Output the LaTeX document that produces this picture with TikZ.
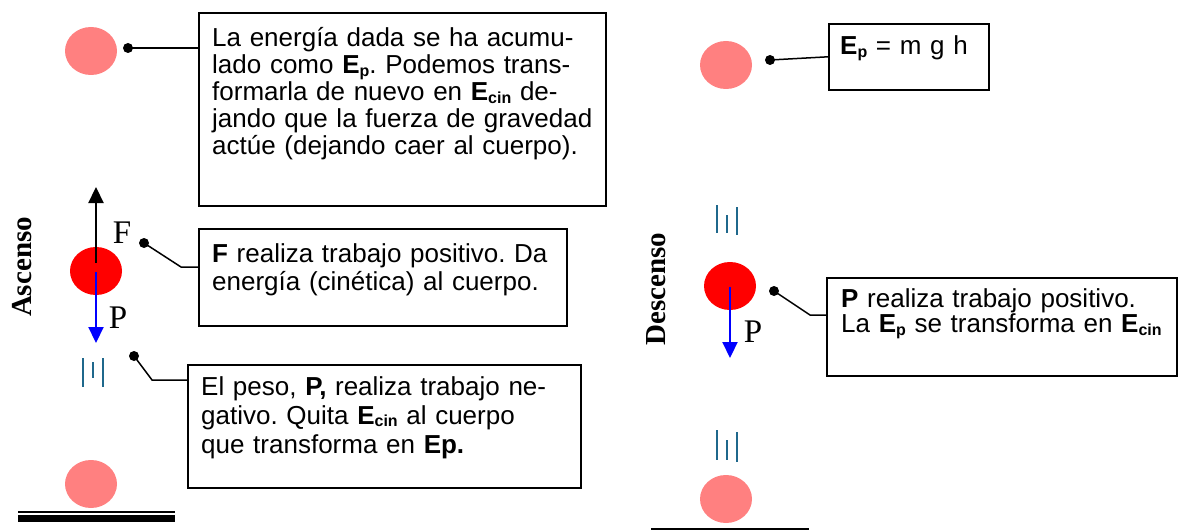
\documentclass[tikz,border=0pt]{standalone}
\usepackage{fontspec}
\setmainfont{Liberation Serif}
\newfontfamily\arial{Liberation Sans}
\usetikzlibrary{shapes.geometric,arrows.meta}
\definecolor{rosa}{RGB}{255,128,128}
\definecolor{rojo}{RGB}{255,0,0}
\definecolor{estela}{RGB}{31,104,140}
\newcommand{\Eb}[1]{\textbf{E\raisebox{-0.1em}{\fontsize{16}{16}\selectfont #1}}}
\frenchspacing

\begin{document}
\begin{tikzpicture}[x=1pt,y=-1pt,
    bola/.style={ellipse,minimum width=52pt,minimum height=48pt,inner sep=0pt},
    bolarosa/.style={bola,fill=rosa},
    bolaroja/.style={bola,fill=rojo},
    caja/.style={draw,line width=1.6pt,anchor=north west,inner sep=0pt},
    texto/.style={anchor=base west,inner sep=0pt,text width=420pt,align=left,font=\arial\fontsize{26}{#1}\selectfont},
    punto/.style={circle,fill,minimum size=10pt,inner sep=0pt},
    linea/.style={line width=1.5pt},
    fuerza/.style={line width=2.2pt,-{Triangle[width=15pt,length=16pt]}},
    peso/.style={fuerza,blue},
    letra/.style={inner sep=0pt,font=\fontsize{33}{33}\selectfont},
    lado/.style={inner sep=0pt,rotate=90,font=\bfseries\fontsize{29}{29}\selectfont},
    estela/.style={draw=estela,line width=2pt},
  ]
    \useasboundingbox (0,0) rectangle (1184,532);

    % ascenso
    \node[lado] (ascenso) at (22,267) {Ascenso};
    \node[bolarosa] (bolaA) at (91,51) {};
    \node[bolaroja] (bolaB) at (96,271) {};
    \node[bolarosa] (bolaC) at (91,484) {};
    \coordinate (topeF) at (96,187);
    \coordinate (topeP) at (96,343);
    \draw[fuerza] ([yshift=8pt]bolaB.center) -- (topeF);
    \draw[peso] ([yshift=-1pt]bolaB.center) -- (topeP);
    \node[letra] (F) at (122,233) {F};
    \node[letra] (P) at (118,318) {P};
    \draw[estela] (83,358) -- (83,387) (93,362) -- (93,378) (103,358) -- (103,387);
    \draw[line width=2pt] (18,512) -- (175,512);
    \draw[line width=7pt] (18,518.5) -- (175,518.5);

    \node[caja,minimum width=407pt,minimum height=193pt] (cajaA) at (198,12) {};
    \node[texto=27] (txtA) at (212,47) {La energía dada se ha acumu-\\lado como \Eb{p}. Podemos trans-\\formarla de nuevo en \Eb{cin} de-\\jando que la fuerza de gravedad\\actúe (dejando caer al cuerpo).};
    \node[caja,minimum width=368pt,minimum height=97pt] (cajaB) at (198,228) {};
    \node[texto=28.3] (txtB) at (212,262) {\textbf{F} realiza trabajo positivo. Da\\energía (cinética) al cuerpo.};
    \node[caja,minimum width=393pt,minimum height=123pt] (cajaC) at (187,364) {};
    \node[texto=29] (txtC) at (201,395) {El peso, \textbf{P,} realiza trabajo ne-\\gativo. Quita \Eb{cin} al cuerpo\\que transforma en \textbf{Ep.}};

    \node[punto] (puntoA) at (128,48) {};
    \draw[linea] (puntoA.center) -- (puntoA.center -| cajaA.west);
    \node[punto] (puntoF) at (144,243) {};
    \coordinate (codoF) at (181,267);
    \draw[linea] (puntoF.center) -- (codoF) -- (codoF -| cajaB.west);
    \node[punto] (puntoP) at (134,356) {};
    \coordinate (codoP) at (152,380);
    \draw[linea] (puntoP.center) -- (codoP) -- (codoP -| cajaC.west);

    % descenso
    \node[lado] (descenso) at (656,289) {Descenso};
    \node[bolarosa] (bolaD) at (726,65) {};
    \node[bolaroja] (bolaE) at (730,286) {};
    \node[bolarosa] (bolaF) at (726,499) {};
    \coordinate (topeQ) at (730,358);
    \draw[peso] ([yshift=-1pt]bolaE.center) -- (topeQ);
    \node[letra] (Q) at (753,332) {P};
    \draw[estela] (717,205) -- (717,233) (727,215) -- (727,233) (737,207) -- (737,235);
    \draw[estela] (717,430) -- (717,460) (727,440) -- (727,460) (737,432) -- (737,462);
    \draw[line width=2.5pt] (651,529) -- (809,529);

    \node[caja,minimum width=160pt,minimum height=66pt] (cajaD) at (828,23) {};
    \node[texto=26] (txtD) at (840,55) {\Eb{p} = m g h};
    \node[caja,minimum width=350pt,minimum height=98pt] (cajaE) at (826,277) {};
    \node[texto=25.5] (txtE) at (841,307) {\textbf{P} realiza trabajo positivo.\\La \Eb{p} se transforma en \Eb{cin}};

    \node[punto] (puntoD) at (770,60) {};
    \draw[linea] (puntoD.center) -- (cajaD.west);
    \node[punto] (puntoQ) at (774,291) {};
    \coordinate (codoQ) at (810,315);
    \draw[linea] (puntoQ.center) -- (codoQ) -- (codoQ -| cajaE.west);
  \end{tikzpicture}
\end{document}
